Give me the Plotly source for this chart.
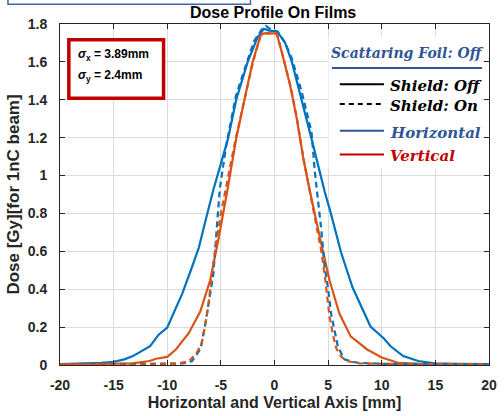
import plotly.graph_objects as go

# ---- dose profiles (x in mm, dose in Gy per 1 nC) ----
horiz_off_x = [-20, -17, -16.2, -15, -14, -13.2, -12, -11.6, -10.8, -10, -9.2, -8.6, -7.7, -7.05,
               -6.6, -5.7, -4.33, -3.57, -2.5, -1.58, -1.0, -0.5, 0.25, 1.0, 1.62, 2.54, 3.45,
               4.67, 5.28, 6.2, 7.27, 8.95, 9.6, 10.2, 10.8, 11.5, 12.0, 13.4, 14.9, 17, 20]
horiz_off_y = [0.005, 0.008, 0.012, 0.017, 0.03, 0.047, 0.085, 0.099, 0.16, 0.198, 0.30, 0.377,
               0.516, 0.62, 0.725, 0.925, 1.195, 1.40, 1.60, 1.73, 1.775, 1.765, 1.76, 1.70,
               1.60, 1.40, 1.195, 0.917, 0.795, 0.595, 0.41, 0.203, 0.17, 0.14, 0.10, 0.07,
               0.047, 0.021, 0.009, 0.006, 0.005]

vert_off_x = [-20, -15, -13.2, -11.66, -11.04, -10, -9.2, -8.0, -6.92, -6.0, -5.25, -4.4,
              -3.57, -2.8, -2.04, -1.28, -1.0, 0.2, 0.7, 1.47, 2.08, 2.69, 3.3, 4.37, 5.13,
              6.04, 7.1, 8.64, 10.0, 11.5, 14, 20]
vert_off_y = [0.003, 0.005, 0.009, 0.021, 0.033, 0.043, 0.082, 0.168, 0.282, 0.447, 0.656,
              0.92, 1.195, 1.40, 1.60, 1.742, 1.75, 1.75, 1.647, 1.473, 1.30, 1.09, 0.917,
              0.638, 0.447, 0.273, 0.151, 0.082, 0.04, 0.012, 0.005, 0.004]

horiz_on_x = [-20, -10, -8.5, -7.7, -6.9, -6.5, -6.15, -5.7, -5.4, -5.1, -4.5, -3.6, -2.8,
              -1.9, -1.2, -0.8, -0.3, 0.3, 1.0, 1.6, 2.5, 3.45, 3.76, 4.06, 4.37, 4.67, 4.98,
              5.28, 5.59, 5.9, 6.5, 7.7, 10, 20]
horiz_on_y = [0.003, 0.004, 0.008, 0.02, 0.085, 0.2, 0.33, 0.48, 0.71, 0.93, 1.16, 1.42,
              1.56, 1.71, 1.77, 1.79, 1.77, 1.76, 1.70, 1.62, 1.45, 1.23, 1.02, 0.88, 0.71,
              0.52, 0.41, 0.27, 0.19, 0.10, 0.03, 0.012, 0.006, 0.004]

vert_on_x = [-20, -12, -9, -8.0, -7.3, -6.8, -6.5, -6.2, -5.9, -5.5, -5.0, -4.4, -3.6, -2.8,
             -2.0, -1.3, -1.0, 0.2, 0.7, 1.5, 2.1, 2.7, 3.3, 3.8, 4.37, 4.67, 4.9, 5.13, 5.45,
             5.74, 6.2, 6.8, 8, 12, 20]
vert_on_y = [0.002, 0.003, 0.008, 0.02, 0.06, 0.11, 0.2, 0.3, 0.45, 0.62, 0.8, 0.97, 1.2,
             1.40, 1.60, 1.74, 1.75, 1.75, 1.65, 1.47, 1.30, 1.09, 0.92, 0.76, 0.6, 0.48,
             0.36, 0.256, 0.16, 0.09, 0.045, 0.02, 0.008, 0.005, 0.004]

x_ticks = [-20, -15, -10, -5, 0, 5, 10, 15, 20]
x_tick_text = ["-20", "-15", "-10", "-5", "0", "5", "10", "15", "20"]
y_ticks = [0, 0.2, 0.4, 0.6, 0.8, 1.0, 1.2, 1.4, 1.6, 1.8]
y_tick_text = ["0", "0.2", "0.4", "0.6", "0.8", "1", "1.2", "1.4", "1.6", "1.8"]

sigma_lines = ["<i>σ</i><sub>x</sub> = 3.89mm", "<i>σ</i><sub>y</sub> = 2.4mm"]

BLUE = "#0072BD"
ORANGE = "#D95319"
KEY_BLUE = "#2F5597"
KEY_RED = "#C00000"

W, H = 504, 416
PL, PR, PT, PB = 60, 497, 24, 369


def fx(p):
    return (p - PL) / (PR - PL)


def fy(p):
    return (PB - p) / (PB - PT)


def bold(labels):
    return ["<b>" + s + "</b>" for s in labels]


fig = go.Figure()
line_w = 2.2
fig.add_trace(go.Scatter(x=horiz_off_x, y=horiz_off_y, mode="lines",
                         line=dict(color=BLUE, width=line_w)))
fig.add_trace(go.Scatter(x=vert_off_x, y=vert_off_y, mode="lines",
                         line=dict(color=ORANGE, width=line_w)))
fig.add_trace(go.Scatter(x=horiz_on_x, y=horiz_on_y, mode="lines",
                         line=dict(color=BLUE, width=line_w, dash="6px,4px")))
fig.add_trace(go.Scatter(x=vert_on_x, y=vert_on_y, mode="lines",
                         line=dict(color=ORANGE, width=line_w, dash="6px,4px")))

axis_font = dict(family="Liberation Sans", size=14, color="#262626")
common = dict(showgrid=True, gridcolor="#DCDCDC", gridwidth=1, zeroline=False,
              showline=True, linecolor="#262626", linewidth=1, mirror="ticks",
              ticks="inside", ticklen=5, tickcolor="#262626", tickfont=axis_font)

fig.update_xaxes(range=[-20, 20], tickvals=x_ticks, ticktext=bold(x_tick_text),
                 ticklabelstandoff=7,
                 title=dict(text="<b>Horizontal and Vertical Axis [mm]</b>",
                            font=dict(family="Liberation Sans", size=16, color="#262626"),
                            standoff=5),
                 **common)
fig.update_yaxes(range=[0, 1.8], tickvals=y_ticks, ticktext=bold(y_tick_text),
                 ticklabelstandoff=9,
                 title=dict(text="<b>Dose [Gy][for 1nC beam]</b>",
                            font=dict(family="Liberation Sans", size=17, color="#262626"),
                            standoff=3),
                 **common)

shapes = []
annotations = []

# title
annotations.append(dict(text="<b>Dose Profile On Films</b>", xref="paper", yref="paper",
                        x=fx(277), y=fy(12), xanchor="center", yanchor="middle",
                        showarrow=False,
                        font=dict(family="Liberation Sans", size=16, color="black")))

# frame peeking in at the top-left
shapes.append(dict(type="rect", xref="paper", yref="paper", x0=fx(7), x1=fx(254),
                   y0=fy(4), y1=fy(-10), line=dict(color="#3E64A6", width=1.5),
                   fillcolor="rgba(0,0,0,0)", layer="above"))

# sigma box
shapes.append(dict(type="rect", xref="paper", yref="paper", x0=fx(69), x1=fx(165.5),
                   y0=fy(99), y1=fy(40), line=dict(color=KEY_RED, width=3.5),
                   fillcolor="white", layer="above"))
for i, t in enumerate(sigma_lines):
    annotations.append(dict(text="<b>" + t + "</b>", xref="paper", yref="paper",
                            x=fx(76), y=fy(55 + 22 * i), xanchor="left", yanchor="middle",
                            showarrow=False,
                            font=dict(family="Liberation Sans", size=12, color="black")))

# key panel
shapes.append(dict(type="rect", xref="paper", yref="paper", x0=fx(333.5), x1=fx(489),
                   y0=fy(170), y1=fy(37), line=dict(width=0), fillcolor="white",
                   layer="above"))
key_font = "DejaVu Serif"
annotations.append(dict(text="<b><i>Scattaring Foil: Off</i></b>", xref="paper",
                        yref="paper", x=fx(414), y=fy(53), xanchor="center",
                        yanchor="middle", showarrow=False,
                        font=dict(family=key_font, size=14, color=KEY_BLUE)))
shapes.append(dict(type="line", xref="paper", yref="paper", x0=fx(337), x1=fx(490),
                   y0=fy(68.5), y1=fy(68.5), line=dict(color=KEY_BLUE, width=2),
                   layer="above"))

key_rows = [
    ("Shield: Off", "black", "black", "solid", 85),
    ("Shield: On", "black", "black", "5px,4px", 105),
    ("Horizontal", KEY_BLUE, KEY_BLUE, "solid", 132),
    ("Vertical", KEY_RED, KEY_RED, "solid", 156),
]
for label, lc, tc, dash, yy in key_rows:
    shapes.append(dict(type="line", xref="paper", yref="paper", x0=fx(345), x1=fx(390),
                       y0=fy(yy), y1=fy(yy), line=dict(color=lc, width=2, dash=dash),
                       layer="above"))
    annotations.append(dict(text="<b><i>" + label + "</i></b>", xref="paper", yref="paper",
                            x=fx(394), y=fy(yy + 2), xanchor="left", yanchor="middle",
                            showarrow=False,
                            font=dict(family=key_font, size=15, color=tc)))

fig.update_layout(width=W, height=H, margin=dict(l=PL, r=W - PR, t=PT, b=H - PB),
                  paper_bgcolor="white", plot_bgcolor="white", showlegend=False,
                  shapes=shapes, annotations=annotations)

fig.write_html("out.html")
